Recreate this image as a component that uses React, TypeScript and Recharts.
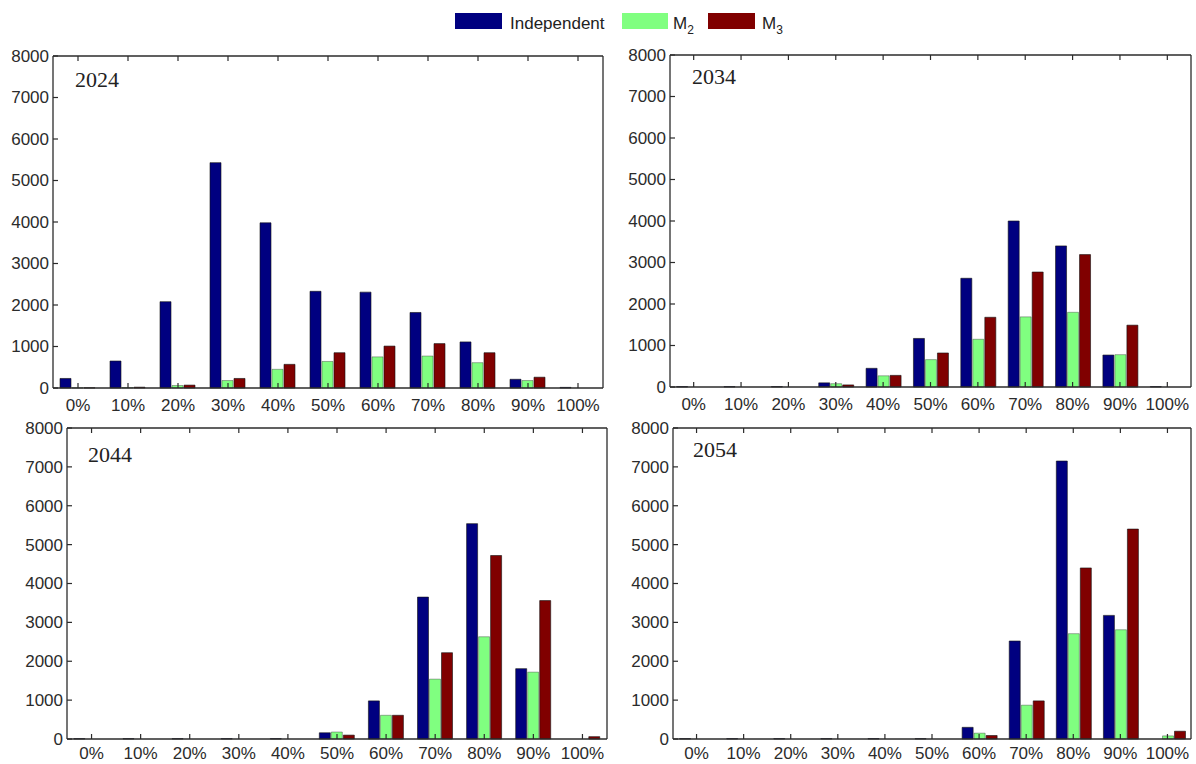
import React from 'react'
import { Bar, BarChart, XAxis, YAxis } from 'recharts'

const categories = ['0%', '10%', '20%', '30%', '40%', '50%', '60%', '70%', '80%', '90%', '100%']
const yTicks = [0, 1000, 2000, 3000, 4000, 5000, 6000, 7000, 8000]

// 2024
const independent2024 = [230, 650, 2080, 5430, 3980, 2330, 2310, 1820, 1110, 210, 15]
const m2_2024 = [5, 10, 60, 180, 450, 640, 750, 770, 610, 180, 0]
const m3_2024 = [5, 20, 70, 230, 570, 850, 1010, 1070, 850, 260, 0]

// 2034
const independent2034 = [10, 10, 10, 100, 450, 1170, 2620, 4000, 3400, 770, 10]
const m2_2034 = [0, 0, 0, 80, 270, 660, 1150, 1690, 1800, 780, 0]
const m3_2034 = [0, 0, 0, 50, 280, 820, 1680, 2770, 3190, 1490, 0]

// 2044
const independent2044 = [10, 10, 10, 10, 10, 160, 980, 3650, 5540, 1810, 0]
const m2_2044 = [0, 0, 0, 0, 0, 180, 610, 1540, 2630, 1720, 0]
const m3_2044 = [0, 0, 0, 0, 0, 100, 610, 2220, 4720, 3560, 60]

// 2054
const independent2054 = [10, 10, 10, 10, 10, 10, 300, 2520, 7150, 3180, 0]
const m2_2054 = [0, 0, 0, 0, 0, 0, 150, 870, 2710, 2810, 80]
const m3_2054 = [0, 0, 0, 0, 0, 0, 90, 980, 4400, 5400, 200]

const BLUE = '#000080'
const GREEN = '#80ff80'
const RED = '#800000'
const AXIS = '#2b2b2b'
const TEXT = '#2b2b2b'
const SANS = '"Liberation Sans", Arial, Helvetica, sans-serif'
const SERIF = '"Liberation Serif", "Times New Roman", serif'

const makeBottomTick = (labelDy: number) => (props: any) => {
  const { x, y, payload } = props
  return (
    <g>
      <line x1={x} x2={x} y1={y} y2={y - 5} stroke={AXIS} strokeWidth={1.2} />
      <text x={x} y={y + labelDy} textAnchor='middle' fontSize={17} fontFamily={SANS} fill={TEXT}>
        {payload.value}
      </text>
    </g>
  )
}

const TopTick = (props: any) => {
  const { x, y } = props
  return <line x1={x} x2={x} y1={y} y2={y + 5} stroke={AXIS} strokeWidth={1.2} />
}

const LeftTick = (props: any) => {
  const { x, y, payload } = props
  return (
    <g>
      <line x1={x} x2={x + 5} y1={y} y2={y} stroke={AXIS} strokeWidth={1.2} />
      <text x={x - 4} y={y} dy='0.35em' textAnchor='end' fontSize={17} fontFamily={SANS} fill={TEXT}>
        {payload.value}
      </text>
    </g>
  )
}

const RightTick = (props: any) => {
  const { x, y } = props
  return <line x1={x} x2={x - 5} y1={y} y2={y} stroke={AXIS} strokeWidth={1.2} />
}

type PanelProps = {
  year: string
  x: number
  y: number
  w: number
  h: number
  yearX: number
  yearY: number
  labelDy: number
  ind: number[]
  m2: number[]
  m3: number[]
}

function Panel({ year, x, y, w, h, yearX, yearY, labelDy, ind, m2, m3 }: PanelProps) {
  const data = categories.map((c, i) => ({ cat: c, ind: ind[i], m2: m2[i], m3: m3[i] }))
  const axisLine = { stroke: AXIS, strokeWidth: 1.3 }
  return (
    <>
      <div style={{ position: 'absolute', left: x - 60, top: y - 10 }}>
        <BarChart
          width={w + 70}
          height={h + 36}
          data={data}
          margin={{ top: 9, right: 9, bottom: 0, left: 0 }}
          barCategoryGap='14%'
          barGap={1}
        >
          <XAxis xAxisId='b' dataKey='cat' height={26} interval={0} tickSize={0} tickMargin={0}
            axisLine={axisLine} tickLine={false} tick={makeBottomTick(labelDy)} />
          <XAxis xAxisId='t' dataKey='cat' orientation='top' height={1} interval={0} tickSize={0}
            tickMargin={0} axisLine={axisLine} tickLine={false} tick={TopTick} />
          <YAxis yAxisId='l' width={60} domain={[0, 8000]} ticks={yTicks} interval={0} tickSize={0}
            tickMargin={0} axisLine={axisLine} tickLine={false} tick={LeftTick} />
          <YAxis yAxisId='r' orientation='right' width={1} domain={[0, 8000]} ticks={yTicks} interval={0}
            tickSize={0} tickMargin={0} axisLine={axisLine} tickLine={false} tick={RightTick} />
          <Bar xAxisId='b' yAxisId='l' dataKey='ind' name='Independent' fill={BLUE} stroke='#111'
            strokeWidth={0.6} isAnimationActive={false} />
          <Bar xAxisId='b' yAxisId='l' dataKey='m2' name='M2' fill={GREEN} stroke='#333'
            strokeWidth={0.4} isAnimationActive={false} />
          <Bar xAxisId='b' yAxisId='l' dataKey='m3' name='M3' fill={RED} stroke='#111'
            strokeWidth={0.6} isAnimationActive={false} />
        </BarChart>
      </div>
      <div style={{
        position: 'absolute', left: yearX, top: yearY, fontFamily: SERIF, fontSize: 22,
        lineHeight: 1, color: '#222',
      }}
      >
        {year}
      </div>
    </>
  )
}

const legendText: React.CSSProperties = {
  position: 'absolute', top: 15, fontFamily: SANS, fontSize: 17, lineHeight: 1, color: '#222',
}
const subStyle: React.CSSProperties = { fontSize: 12, verticalAlign: 'baseline', position: 'relative', top: 5 }

export default function App() {
  return (
    <div style={{
      position: 'absolute', left: 0, top: 0, width: 1196, height: 764, background: '#fff', overflow: 'hidden',
    }}
    >
      <div style={{ position: 'absolute', left: 455, top: 13, width: 47, height: 16, background: BLUE }} />
      <div style={{ ...legendText, left: 510 }}>Independent</div>
      <div style={{ position: 'absolute', left: 622, top: 13, width: 46, height: 16, background: GREEN }} />
      <div style={{ ...legendText, left: 673 }}>M<span style={subStyle}>2</span></div>
      <div style={{ position: 'absolute', left: 708, top: 13, width: 47, height: 16, background: RED }} />
      <div style={{ ...legendText, left: 762 }}>M<span style={subStyle}>3</span></div>

      <Panel year='2024' x={53} y={56} w={550} h={332} yearX={75} yearY={69} labelDy={23}
        ind={independent2024} m2={m2_2024} m3={m3_2024} />
      <Panel year='2034' x={670} y={55} w={521} h={332} yearX={692} yearY={66} labelDy={23}
        ind={independent2034} m2={m2_2034} m3={m3_2034} />
      <Panel year='2044' x={67} y={428} w={540} h={311} yearX={88} yearY={444} labelDy={20}
        ind={independent2044} m2={m2_2044} m3={m3_2044} />
      <Panel year='2054' x={673} y={428} w={518} h={311} yearX={693} yearY={439} labelDy={20}
        ind={independent2054} m2={m2_2054} m3={m3_2054} />
    </div>
  )
}
